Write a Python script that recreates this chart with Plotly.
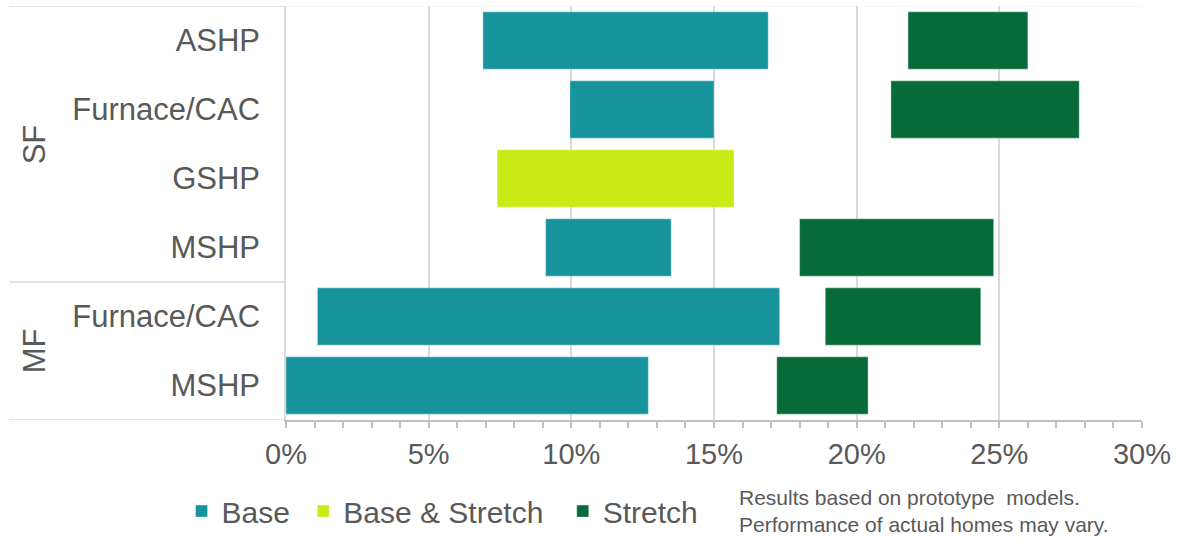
import plotly.graph_objects as go

# ---- data ----
row_ids = ["SF-ASHP", "SF-Furnace", "SF-GSHP", "SF-MSHP", "MF-Furnace", "MF-MSHP"]
row_labels = ["ASHP", "Furnace/CAC", "GSHP", "MSHP", "Furnace/CAC", "MSHP"]
groups = ["SF", "MF"]

base_rows = ["SF-ASHP", "SF-Furnace", "SF-MSHP", "MF-Furnace", "MF-MSHP"]
base_start = [0.069, 0.0995, 0.091, 0.011, 0.000]
base_end = [0.169, 0.150, 0.135, 0.173, 0.127]

bs_rows = ["SF-GSHP"]
bs_start = [0.074]
bs_end = [0.157]

stretch_rows = ["SF-ASHP", "SF-Furnace", "SF-MSHP", "MF-Furnace", "MF-MSHP"]
stretch_start = [0.218, 0.212, 0.180, 0.189, 0.172]
stretch_end = [0.260, 0.278, 0.248, 0.2435, 0.204]

series_names = ["Base", "Base & Stretch", "Stretch"]
note_text = "Results based on prototype  models.<br>Performance of actual homes may vary."

# ---- style ----
FONT = "Liberation Sans, Arial, sans-serif"
TXT = "#595959"
GRID = "#D9D9D9"
C_BASE = "#17949B"
C_BS = "#C9EA14"
C_STR = "#066B38"
# invisible padding after legend names to widen the gaps between entries
legend_pad = ["\u00a0", "\u00a0\u2009", ""]


def span_trace(name, rows, starts, ends, color):
    return go.Bar(
        name=name,
        y=rows,
        x=[e - s for s, e in zip(starts, ends)],
        base=starts,
        orientation="h",
        marker=dict(color=color, line=dict(color="rgba(255,255,255,0.35)", width=1)),
        hoverinfo="skip",
    )


fig = go.Figure()
fig.add_trace(span_trace(series_names[0] + legend_pad[0], base_rows, base_start, base_end, C_BASE))
fig.add_trace(span_trace(series_names[1] + legend_pad[1], bs_rows, bs_start, bs_end, C_BS))
fig.add_trace(span_trace(series_names[2] + legend_pad[2], stretch_rows, stretch_start, stretch_end, C_STR))

fig.update_layout(
    width=1177,
    height=540,
    margin=dict(l=286, r=35, t=6, b=120, autoexpand=False),
    paper_bgcolor="white",
    plot_bgcolor="white",
    barmode="overlay",
    bargap=0.17,
    font=dict(family=FONT, size=29, color=TXT),
    showlegend=True,
    legend=dict(
        orientation="h",
        x=-0.122,
        xanchor="left",
        y=-0.22,
        yanchor="middle",
        font=dict(size=30, color=TXT),
        itemclick=False,
        traceorder="normal",
    ),
)

fig.update_xaxes(
    range=[0, 0.30],
    dtick=0.05,
    tickformat=".0%",
    showgrid=True,
    gridcolor=GRID,
    gridwidth=1.5,
    zeroline=False,
    showline=True,
    linecolor="#BFBFBF",
    linewidth=1.5,
    ticks="outside",
    ticklen=6,
    tickcolor="#BFBFBF",
    tickwidth=1.5,
    minor=dict(dtick=0.01, ticks="outside", ticklen=6, tickcolor="#BFBFBF", tickwidth=1.5, showgrid=False),
    tickfont=dict(size=29, color=TXT),
    ticklabelstandoff=1,
    automargin=False,
)

fig.update_yaxes(
    type="category",
    categoryorder="array",
    categoryarray=row_ids,
    tickvals=row_ids,
    ticktext=row_labels,
    range=[5.5, -0.5],
    showgrid=False,
    zeroline=False,
    showline=True,
    linecolor=GRID,
    linewidth=1.5,
    ticks="",
    tickfont=dict(size=31, color=TXT),
    ticklabelstandoff=18,
    automargin=False,
)

# group dividers in the label area
for yv in [-0.5, 3.5, 5.5]:
    fig.add_shape(type="line", xref="paper", yref="y", x0=-0.323, x1=0, y0=yv, y1=yv,
                  line=dict(color=GRID, width=1.5), layer="below")
# faint top border across the plot
fig.add_shape(type="line", xref="paper", yref="y", x0=0, x1=1, y0=-0.5, y1=-0.5,
              line=dict(color="#F0F0F0", width=1), layer="below")

# group labels
for g, yc in zip(groups, [1.5, 4.5]):
    fig.add_annotation(text=g, xref="paper", yref="y", x=-0.294, y=yc, showarrow=False,
                       textangle=-90, font=dict(size=31, color=TXT), xanchor="center", yanchor="middle")

# note
fig.add_annotation(text=note_text, xref="paper", yref="paper", x=0.527, y=-0.219,
                   xanchor="left", yanchor="middle", align="left", showarrow=False,
                   font=dict(size=21, color=TXT))

fig.write_html("out.html")
